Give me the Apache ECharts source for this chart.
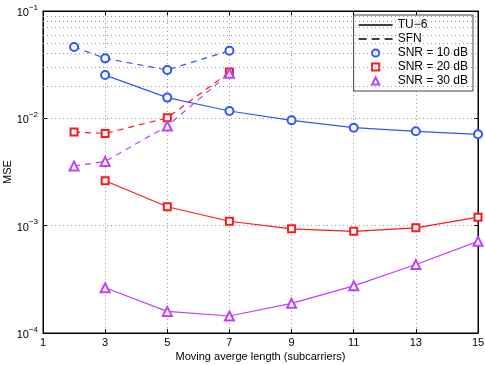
<!DOCTYPE html>
<html>
<head>
<meta charset="utf-8">
<script src="https://cdn.jsdelivr.net/npm/echarts@6/dist/echarts.min.js"></script>
<style>
  html, body { margin: 0; padding: 0; background: #fff; }
  #myChart { width: 485px; height: 365px; }
</style>
</head>
<body>
<div id="myChart"></div>
<script>
// moving average lengths
var xTU = [3, 5, 7, 9, 11, 13, 15];
var xSFN = [2, 3, 5, 7];

// TU-6 channel (solid)
var tu10 = [0.0253, 0.0156, 0.0117, 0.00958, 0.00818, 0.00757, 0.0071];
var tu20 = [0.00262, 0.0015, 0.0011, 0.000935, 0.000885, 0.000955, 0.0012];
var tu30 = [0.000264, 0.000159, 0.000144, 0.000189, 0.000275, 0.000435, 0.000714];

// SFN channel (dashed)
var sfn10 = [0.0462, 0.0362, 0.0282, 0.0427];
var sfn20 = [0.00745, 0.00724, 0.0101, 0.027];
var sfn30 = [0.00359, 0.00397, 0.00848, 0.0263];

var xTicks = [1, 3, 5, 7, 9, 11, 13, 15];
var minorY = [];
[1e-4, 1e-3, 1e-2].forEach(function (d) {
  for (var k = 2; k <= 9; k++) minorY.push(+(k * d).toPrecision(2));
});

var legendNames = ['TU\u22126', 'SFN', 'SNR = 10 dB', 'SNR = 20 dB', 'SNR = 30 dB'];

var BLUE = '#2f55ff', RED = '#ff1a1a', PURPLE = '#bf40ff';
var FONT = 'Liberation Sans';

function pairs(xs, ys) {
  return xs.map(function (x, i) { return [x, ys[i]]; });
}

function curve(xs, ys, color, symbol, size, dashed) {
  return {
    type: 'line',
    data: pairs(xs, ys),
    symbol: symbol,
    symbolSize: size,
    showAllSymbol: true,
    silent: true,
    z: 5,
    lineStyle: { color: color, width: 1.2, type: dashed ? [6, 5] : 'solid' },
    itemStyle: { color: color, borderColor: color, borderWidth: 1.3 }
  };
}

var gridDots = { color: '#9a9a9a', width: 1, type: [1, 3] };

var chart = echarts.init(document.getElementById('myChart'));
chart.setOption({
  animation: false,
  textStyle: { fontFamily: FONT },
  grid: { left: 43, right: 7, top: 11, bottom: 32, outerBoundsMode: 'none', containLabel: false,
          show: true, borderColor: '#000', borderWidth: 1 },
  legend: {
    orient: 'vertical',
    right: 12,
    top: 15,
    data: [
      { name: legendNames[0], icon: 'path://M0,0H34V1.3H0Z' },
      { name: legendNames[1], icon: 'path://M0,0H8V1.3H0Z M13,0H21V1.3H13Z M26,0H34V1.3H26Z' },
      { name: legendNames[2] },
      { name: legendNames[3] },
      { name: legendNames[4] }
    ],
    itemWidth: 34,
    itemHeight: 9,
    itemGap: 0,
    padding: [3, 5, 3, 4],
    backgroundColor: '#fff',
    borderColor: '#444',
    borderWidth: 1,
    selectedMode: false,
    textStyle: { fontFamily: FONT, fontSize: 12, color: '#000', lineHeight: 14 }
  },
  xAxis: [{
    type: 'value',
    min: 1,
    max: 15,
    interval: 2,
    name: 'Moving averge length (subcarriers)',
    nameLocation: 'middle',
    nameGap: 18,
    nameMoveOverlap: false,
    nameTextStyle: { fontFamily: FONT, fontSize: 11, color: '#000' },
    axisLine: { lineStyle: { color: '#000' } },
    axisTick: { inside: true, length: 4, lineStyle: { color: '#000' } },
    axisLabel: { fontFamily: FONT, fontSize: 11, color: '#000', margin: 4 },
    splitLine: { show: true, lineStyle: gridDots }
  }, {
    type: 'value',
    position: 'top',
    min: 1,
    max: 15,
    interval: 2,
    axisLine: { lineStyle: { color: '#000' } },
    axisTick: { inside: true, length: 4, lineStyle: { color: '#000' } },
    axisLabel: { show: false },
    splitLine: { show: false }
  }],
  yAxis: [{
    type: 'log',
    min: 1e-4,
    max: 1e-1,
    logBase: 10,
    name: 'MSE',
    nameLocation: 'middle',
    nameGap: 30,
    nameMoveOverlap: false,
    nameTextStyle: { fontFamily: FONT, fontSize: 11, color: '#000' },
    axisLine: { lineStyle: { color: '#000' } },
    axisTick: { inside: true, length: 4, lineStyle: { color: '#000' } },
    axisLabel: {
      margin: 5,
      formatter: function (v) {
        var e = Math.round(Math.log10(v));
        return '{b|10}{s|\u2212' + Math.abs(e) + '}';
      },
      rich: {
        b: { fontFamily: FONT, fontSize: 11, color: '#000', padding: [4, 0, 0, 0] },
        s: { fontFamily: FONT, fontSize: 8, color: '#000', verticalAlign: 'top', padding: [0, 0, 6, 0] }
      }
    },
    splitLine: { show: true, lineStyle: gridDots }
  }, {
    type: 'log',
    min: 1e-4,
    max: 1e-1,
    position: 'right',
    axisLine: { lineStyle: { color: '#000' } },
    axisTick: { inside: true, length: 4, lineStyle: { color: '#000' } },
    axisLabel: { show: false },
    splitLine: { show: false }
  }],
  series: [
    // minor grid lines of the log axis
    {
      type: 'line',
      data: [],
      silent: true,
      markLine: {
        silent: true,
        symbol: 'none',
        label: { show: false },
        lineStyle: gridDots,
        data: minorY.map(function (v) { return { yAxis: v }; })
      }
    },
    curve(xTU, tu10, BLUE, 'emptyCircle', 8, false),
    curve(xTU, tu20, RED, 'emptyRect', 7, false),
    curve(xTU, tu30, PURPLE, 'emptyTriangle', 9, false),
    curve(xSFN, sfn10, BLUE, 'emptyCircle', 8, true),
    curve(xSFN, sfn20, RED, 'emptyRect', 7, true),
    curve(xSFN, sfn30, PURPLE, 'emptyTriangle', 9, true),
    // legend entries
    { type: 'line', name: legendNames[0], data: [], symbol: 'none', lineStyle: { color: '#000', width: 1.2 }, itemStyle: { color: '#000' } },
    { type: 'line', name: legendNames[1], data: [], symbol: 'none', lineStyle: { color: '#000', width: 1.2, type: [6, 4] }, itemStyle: { color: '#000' } },
    { type: 'line', name: legendNames[2], data: [], symbol: 'emptyCircle', symbolSize: 7, lineStyle: { opacity: 0 }, itemStyle: { color: BLUE, borderColor: BLUE, borderWidth: 1.3 } },
    { type: 'line', name: legendNames[3], data: [], symbol: 'emptyRect', symbolSize: 6, lineStyle: { opacity: 0 }, itemStyle: { color: RED, borderColor: RED, borderWidth: 1.3 } },
    { type: 'line', name: legendNames[4], data: [], symbol: 'emptyTriangle', symbolSize: 8, lineStyle: { opacity: 0 }, itemStyle: { color: PURPLE, borderColor: PURPLE, borderWidth: 1.3 } }
  ]
});
</script>
</body>
</html>
